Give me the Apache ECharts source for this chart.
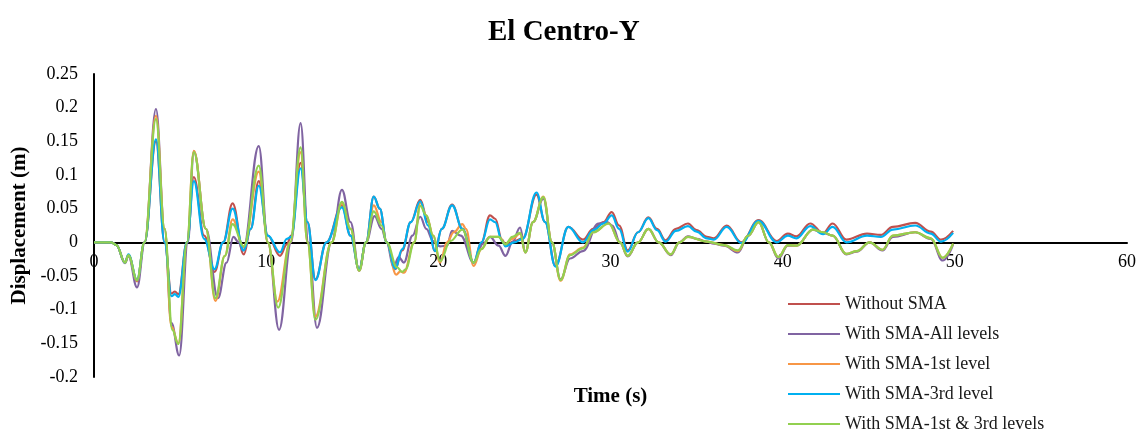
<!DOCTYPE html>
<html>
<head>
<meta charset="utf-8">
<script src="https://cdn.jsdelivr.net/npm/echarts@6/dist/echarts.min.js"></script>
<style>
  html, body { margin: 0; padding: 0; background: #fff; }
  #chart { width: 1140px; height: 433px; }
</style>
</head>
<body>
<div id="chart"></div>
<script>
// Roof displacement histories, El Centro record (Y direction): [time (s), displacement (m)]
const seriesNames = [
  'Without SMA',
  'With SMA-All levels',
  'With SMA-1st level',
  'With SMA-3rd level',
  'With SMA-1st & 3rd levels'
];

const withoutSMA = [
  [0,0],[1.0,0],[1.3,-0.004],[1.8,-0.030],[2.0,-0.019],[2.5,-0.058],[2.93,0],[3.6,0.150],[4.1,0.0],
  [4.5,-0.076],[4.7,-0.073],[4.9,-0.077],[5.4,0],[5.8,0.097],[6.4,0.01],[7.0,-0.044],[7.5,0],
  [8.05,0.058],[8.7,-0.018],[9.1,0.02],[9.57,0.091],[10.1,0.01],[10.8,-0.020],[11.2,-0.003],
  [11.45,0.010],[12.0,0.118],[12.4,0.03],[12.86,-0.055],[13.5,0],[14.4,0.055],[14.9,0.01],
  [15.4,-0.040],[15.8,0],[16.25,0.068],[16.6,0.05],[17.0,0],[17.5,-0.040],[17.9,-0.012],
  [18.4,0.03],[18.95,0.063],[19.4,0.03],[19.8,-0.013],[20.2,0.02],[20.8,0.056],[21.4,0.02],
  [22.05,-0.030],[22.5,0.0],[23.0,0.040],[23.3,0.035],[23.7,0.004],[23.9,-0.005],[24.4,0.002],
  [24.9,0.006],[25.7,0.071],[26.2,0.03],[26.8,-0.035],[27.55,0.023],[28.4,0.004],[29.0,0.02],
  [29.6,0.03],[30.07,0.045],[30.5,0.025],[31.0,-0.012],[31.6,0.015],[32.2,0.037],[32.7,0.02],
  [33.2,0.003],[33.8,0.02],[34.5,0.028],[35.0,0.018],[35.6,0.008],[36.0,0.006],[36.75,0.025],
  [37.6,0.0],[38.6,0.033],[39.65,0.002],[40.3,0.013],[40.8,0.009],[41.6,0.028],[42.35,0.014],
  [42.9,0.028],[43.7,0.004],[44.9,0.013],[45.7,0.011],[46.4,0.023],[47.7,0.029],[48.6,0.016],
  [49.2,0.004],[49.9,0.017]
];

const withSMAAll = [
  [0,0],[1.0,0],[1.3,-0.004],[1.8,-0.031],[2.0,-0.020],[2.5,-0.067],[2.95,0],[3.6,0.198],[4.1,0.02],
  [4.5,-0.120],[4.95,-0.168],[5.45,0],[5.8,0.135],[6.5,0.02],[7.2,-0.083],[7.7,-0.03],[8.1,0.008],
  [8.4,0.0],[8.65,-0.012],[9.57,0.143],[10.1,0.0],[10.75,-0.130],[11.45,0],[12.0,0.177],[12.45,0.0],
  [12.95,-0.127],[13.8,0],[14.4,0.078],[14.9,0.03],[15.4,-0.042],[15.8,0],[16.3,0.039],[16.7,0.02],
  [17.0,0],[17.4,-0.037],[17.7,-0.022],[18.0,-0.030],[18.5,0.01],[18.95,0.038],[19.3,0.02],
  [19.7,0.002],[20.1,-0.006],[20.5,-0.005],[20.8,0.017],[21.3,0.01],[22.05,-0.030],[22.6,-0.002],
  [23.0,0.008],[23.5,-0.005],[23.9,-0.020],[24.3,0.0],[24.75,0.022],[25.05,-0.015],[25.5,0.03],
  [26.1,0.065],[26.6,0.0],[27.1,-0.055],[27.65,-0.024],[28.4,-0.013],[29.3,0.028],[29.8,0.030],
  [30.1,0.025],[30.55,0],[31.0,-0.021],[31.6,0.0],[32.2,0.020],[32.8,0.0],[33.5,-0.019],[34.0,0.0],
  [34.5,0.009],[35.0,0.005],[35.6,0.001],[36.0,-0.002],[36.6,-0.005],[37.4,-0.015],[38.0,0.01],
  [38.6,0.030],[39.2,0.0],[39.75,-0.024],[40.3,-0.005],[40.8,-0.005],[41.76,0.019],[42.35,0.014],
  [42.9,0.01],[43.7,-0.018],[44.3,-0.014],[45.05,0.0],[45.8,-0.012],[46.4,0.008],[47.7,0.015],
  [48.6,0.005],[49.3,-0.027],[49.9,-0.003]
];

const withSMA1st = [
  [0,0],[1.0,0],[1.3,-0.004],[1.8,-0.030],[2.0,-0.019],[2.5,-0.057],[2.93,0],[3.6,0.188],[4.1,0.02],
  [4.5,-0.125],[4.9,-0.150],[5.4,0],[5.8,0.136],[6.5,0.02],[7.05,-0.087],[7.6,-0.02],[8.05,0.034],
  [8.7,-0.007],[9.57,0.105],[10.1,0.0],[10.65,-0.088],[11.4,0],[12.0,0.134],[12.4,0.0],[12.86,-0.110],
  [13.8,0],[14.4,0.058],[14.9,0.02],[15.4,-0.042],[15.8,0],[16.25,0.055],[16.7,0.03],[17.0,0],
  [17.55,-0.048],[17.8,-0.043],[18.0,-0.045],[18.6,0.0],[18.95,0.059],[19.3,0.04],[19.7,0.01],
  [20.1,-0.030],[20.5,0.0],[20.9,0.015],[21.4,0.027],[21.6,0.02],[22.05,-0.035],[22.5,-0.01],
  [23.0,0.008],[23.5,0.008],[23.9,-0.002],[24.3,0.005],[24.75,0.013],[25.05,-0.015],[25.5,0.03],
  [26.1,0.068],[26.6,0.0],[27.1,-0.057],[27.65,-0.018],[28.4,-0.008],[29.0,0.015],[29.9,0.028],
  [30.55,0],[31.0,-0.020],[31.6,0.0],[32.2,0.020],[32.8,0.0],[33.5,-0.018],[34.0,0.0],[34.5,0.008],
  [35.6,0.001],[36.6,-0.004],[37.4,-0.013],[38.0,0.01],[38.6,0.030],[39.2,0.0],[39.75,-0.022],
  [40.3,-0.004],[40.8,-0.005],[41.76,0.019],[42.35,0.015],[42.9,0.01],[43.7,-0.017],[44.3,-0.013],
  [45.05,0.0],[45.8,-0.011],[46.4,0.01],[47.7,0.015],[48.6,0.006],[49.3,-0.023],[49.9,-0.002]
];

const withSMA3rd = [
  [0,0],[1.0,0],[1.3,-0.004],[1.8,-0.030],[2.0,-0.018],[2.5,-0.056],[2.93,0],[3.6,0.153],[4.1,0.0],
  [4.5,-0.080],[4.7,-0.077],[4.9,-0.081],[5.4,0],[5.8,0.091],[6.4,0.005],[7.0,-0.040],[7.5,0],
  [8.05,0.050],[8.7,-0.012],[9.1,0.02],[9.57,0.084],[10.1,0.01],[10.8,-0.015],[11.2,0.005],
  [11.45,0.008],[12.0,0.110],[12.4,0.03],[12.86,-0.056],[13.5,0],[14.4,0.052],[14.9,0.01],
  [15.4,-0.040],[15.8,0],[16.25,0.068],[16.6,0.05],[17.0,0],[17.5,-0.039],[17.9,-0.010],
  [18.4,0.03],[18.95,0.061],[19.4,0.025],[19.8,-0.013],[20.2,0.02],[20.8,0.055],[21.4,0.02],
  [22.05,-0.030],[22.5,0.0],[23.0,0.034],[23.3,0.03],[23.7,0.002],[23.9,-0.006],[24.4,0.0],
  [24.9,0.005],[25.7,0.074],[26.2,0.03],[26.8,-0.036],[27.55,0.023],[28.4,0.0],[29.0,0.018],
  [29.6,0.028],[30.07,0.040],[30.5,0.02],[31.0,-0.014],[31.6,0.015],[32.2,0.036],[32.7,0.018],
  [33.2,0.001],[33.8,0.017],[34.5,0.024],[35.0,0.016],[35.6,0.006],[36.0,0.004],[36.75,0.023],
  [37.6,-0.001],[38.6,0.032],[39.65,0.0],[40.3,0.010],[40.8,0.006],[41.6,0.024],[42.35,0.012],
  [42.9,0.023],[43.7,0.0],[44.9,0.010],[45.7,0.008],[46.4,0.019],[47.7,0.025],[48.6,0.013],
  [49.2,0.001],[49.9,0.014]
];

const withSMA1st3rd = [
  [0,0],[1.0,0],[1.3,-0.004],[1.8,-0.030],[2.0,-0.019],[2.5,-0.056],[2.93,0],[3.6,0.183],[4.1,0.02],
  [4.55,-0.130],[4.9,-0.151],[5.4,0],[5.8,0.134],[6.5,0.02],[7.05,-0.083],[7.6,-0.02],[8.05,0.027],
  [8.7,-0.006],[9.57,0.114],[10.1,0.0],[10.7,-0.097],[11.4,0],[12.0,0.141],[12.4,0.0],[12.86,-0.115],
  [13.8,0],[14.4,0.060],[14.9,0.02],[15.4,-0.042],[15.8,0],[16.25,0.046],[16.7,0.025],[17.0,0],
  [17.6,-0.037],[17.9,-0.044],[18.1,-0.040],[18.6,0.0],[18.95,0.054],[19.3,0.04],[19.7,0.01],
  [20.1,-0.028],[20.7,0.002],[21.4,0.019],[22.05,-0.030],[22.5,-0.01],[23.0,0.008],[23.5,0.008],
  [23.9,-0.003],[24.3,0.008],[24.75,0.014],[25.05,-0.015],[25.5,0.03],[26.1,0.067],[26.6,0.0],
  [27.1,-0.056],[27.65,-0.019],[28.4,-0.009],[29.0,0.015],[29.9,0.028],[30.55,0],[31.0,-0.020],
  [31.6,0.0],[32.2,0.020],[32.8,0.0],[33.5,-0.018],[34.0,0.0],[34.5,0.008],[35.6,0.001],
  [36.6,-0.004],[37.4,-0.012],[38.0,0.01],[38.6,0.030],[39.2,0.0],[39.75,-0.022],[40.3,-0.004],
  [40.8,-0.005],[41.76,0.019],[42.35,0.015],[42.9,0.01],[43.7,-0.017],[44.3,-0.013],[45.05,0.0],
  [45.8,-0.011],[46.4,0.01],[47.7,0.015],[48.6,0.006],[49.3,-0.023],[49.9,-0.002]
];

const seriesData = [withoutSMA, withSMAAll, withSMA1st, withSMA3rd, withSMA1st3rd];
const seriesColors = ['#C0504D', '#8064A2', '#F79646', '#00B0F0', '#92D050'];

const FONT = '"Liberation Serif", "Times New Roman", serif';

// plot box and value range; the time axis is drawn through displacement = 0
const GRID = { left: 94, right: 13, top: 74, bottom: 56 };
const Y_MIN = -0.2, Y_MAX = 0.25;
const plotHeight = 433 - GRID.top - GRID.bottom;
const zeroFromBottom = plotHeight * (0 - Y_MIN) / (Y_MAX - Y_MIN);

const chart = echarts.init(document.getElementById('chart'), null, { renderer: 'canvas' });

chart.setOption({
  animation: false,
  backgroundColor: '#ffffff',
  title: {
    text: 'El Centro-Y',
    left: 483,
    top: 13,
    textStyle: { fontFamily: FONT, fontSize: 29, fontWeight: 'bold', color: '#000' }
  },
  grid: Object.assign({ containLabel: false, outerBoundsMode: 'none' }, GRID),
  legend: {
    orient: 'vertical',
    left: 788,
    top: 295,
    padding: 0,
    height: 140,
    itemWidth: 52,
    itemHeight: 14,
    itemGap: 12,
    icon: 'path://M0,6 L52,6 L52,8 L0,8 Z',
    textStyle: { fontFamily: FONT, fontSize: 18, color: '#1a1a1a', lineHeight: 18 },
    data: seriesNames
  },
  xAxis: {
    type: 'value',
    min: 0,
    max: 60,
    interval: 10,
    position: 'bottom',
    offset: -zeroFromBottom,
    name: 'Time (s)',
    nameLocation: 'middle',
    nameGap: 144,
    nameTextStyle: { fontFamily: FONT, fontSize: 21, fontWeight: 'bold', color: '#000' },
    axisLine: { onZero: false, lineStyle: { color: '#000', width: 2 } },
    axisTick: { show: false },
    splitLine: { show: false },
    axisLabel: { fontFamily: FONT, fontSize: 18, color: '#000', margin: 11 }
  },
  yAxis: {
    type: 'value',
    min: Y_MIN,
    max: Y_MAX,
    interval: 0.05,
    name: 'Displacement (m)',
    nameLocation: 'middle',
    nameRotate: 90,
    nameGap: 55,
    nameTextStyle: { fontFamily: FONT, fontSize: 21, fontWeight: 'bold', color: '#000' },
    axisLine: { show: true, onZero: false, lineStyle: { color: '#000', width: 2 } },
    axisTick: { show: false },
    splitLine: { show: false },
    axisLabel: { fontFamily: FONT, fontSize: 18, color: '#000', margin: 16 }
  },
  series: seriesNames.map((name, i) => ({
    name: name,
    type: 'line',
    data: seriesData[i],
    symbol: 'none',
    smooth: 0.4,
    smoothMonotone: 'x',
    color: seriesColors[i],
    lineStyle: { width: 2.2, color: seriesColors[i] },
    z: 2 + i
  }))
});
</script>
</body>
</html>
